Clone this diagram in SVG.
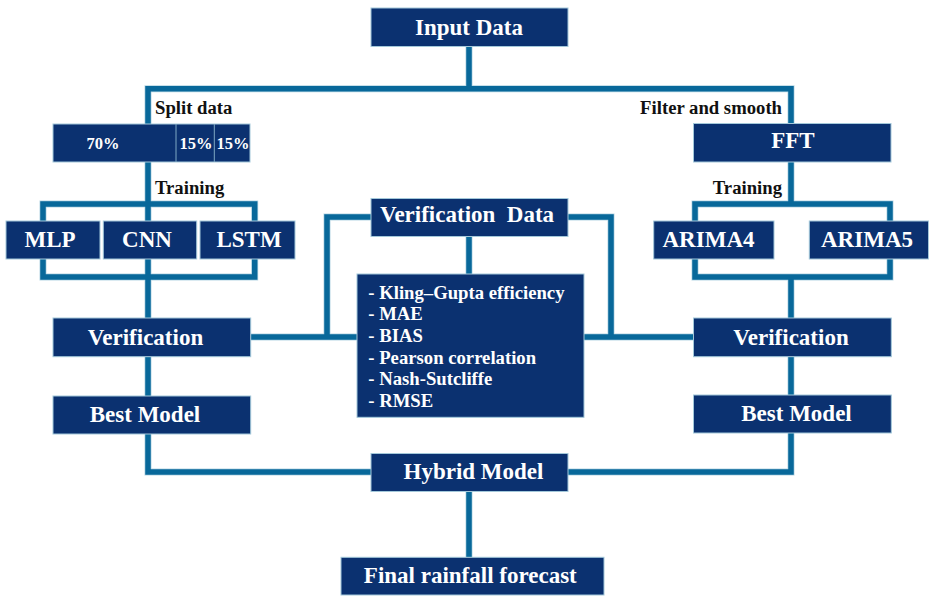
<svg xmlns="http://www.w3.org/2000/svg" width="929" height="596" viewBox="0 0 929 596">
  <style>
    .box { fill: #0b3170; stroke: #a3c8da; stroke-width: 1; }
    .div { stroke: #7fa9c4; stroke-width: 1; }
    .lbl { font-family: "Liberation Serif", serif; font-weight: bold; fill: #ffffff; text-anchor: middle; }
    .big { font-size: 23px; }
    .pct { font-size: 16.5px; }
    .met { font-family: "Liberation Serif", serif; font-weight: bold; fill: #ffffff; font-size: 18.7px; }
    .side { font-family: "Liberation Serif", serif; font-weight: bold; fill: #111111; font-size: 18.7px; }
    .halo { fill: none; stroke: #b5d6e4; stroke-width: 7; }
    .wire { fill: none; stroke: #08689a; stroke-width: 5.5; }
  </style>

  <!-- connectors: halo pass first, then the blue wire on top -->
  <g id="connectors">
    <g class="halo">
      <path d="M469 47 V88.7 M148 124 V88.7 H791 V123"/>
      <path d="M148 162 V221 M43 221 V204 H254.7 V221"/>
      <path d="M43 259 V277 H254.7 V259 M148 259 V318"/>
      <path d="M148 357 V396 M148 434 V472 H371"/>
      <path d="M791 162 V204 M695 221 V204 H890 V221"/>
      <path d="M695 259 V277 H890 V259 M791 277 V318"/>
      <path d="M791 357 V395 M791 433 V472 H568"/>
      <path d="M469 492 V557"/>
      <path d="M371 217 H327 V337 M568 217 H611 V337 M469 237 V274"/>
      <path d="M251 337 H357 M584 337 H693"/>
    </g>
    <g class="wire">
      <path d="M469 47 V88.7 M148 124 V88.7 H791 V123"/>
      <path d="M148 162 V221 M43 221 V204 H254.7 V221"/>
      <path d="M43 259 V277 H254.7 V259 M148 259 V318"/>
      <path d="M148 357 V396 M148 434 V472 H371"/>
      <path d="M791 162 V204 M695 221 V204 H890 V221"/>
      <path d="M695 259 V277 H890 V259 M791 277 V318"/>
      <path d="M791 357 V395 M791 433 V472 H568"/>
      <path d="M469 492 V557"/>
      <path d="M371 217 H327 V337 M568 217 H611 V337 M469 237 V274"/>
      <path d="M251 337 H357 M584 337 H693"/>
    </g>
  </g>

  <!-- branch captions -->
  <g id="captions">
    <text class="side" x="155" y="114">Split data</text>
    <text class="side" x="155" y="194">Training</text>
    <text class="side" x="782" y="114" text-anchor="end">Filter and smooth</text>
    <text class="side" x="782" y="194" text-anchor="end">Training</text>
  </g>

  <g id="input-data">
    <rect class="box" x="371" y="8" width="197" height="38.5"/>
    <text class="lbl big" x="469" y="35">Input Data</text>
  </g>

  <g id="split">
    <rect class="box" x="53" y="124" width="197" height="38"/>
    <line class="div" x1="176" y1="124" x2="176" y2="162"/>
    <line class="div" x1="214.3" y1="124" x2="214.3" y2="162"/>
    <text class="lbl pct" x="103" y="148.5">70%</text>
    <text class="lbl pct" x="196" y="148.5">15%</text>
    <text class="lbl pct" x="233" y="148.5">15%</text>
  </g>

  <g id="fft">
    <rect class="box" x="693.5" y="123.5" width="197.5" height="38.5"/>
    <text class="lbl big" x="793" y="148">FFT</text>
  </g>

  <g id="mlp">
    <rect class="box" x="6" y="221" width="94" height="38"/>
    <text class="lbl big" x="50" y="247">MLP</text>
  </g>
  <g id="cnn">
    <rect class="box" x="103.3" y="221" width="93.4" height="38"/>
    <text class="lbl big" x="147" y="247">CNN</text>
  </g>
  <g id="lstm">
    <rect class="box" x="200" y="221" width="95" height="38"/>
    <text class="lbl big" x="249" y="247">LSTM</text>
  </g>

  <g id="arima4">
    <rect class="box" x="653.7" y="221" width="120.3" height="38"/>
    <text class="lbl big" x="708.5" y="247">ARIMA4</text>
  </g>
  <g id="arima5">
    <rect class="box" x="809.3" y="221" width="119.2" height="38"/>
    <text class="lbl big" x="867" y="247">ARIMA5</text>
  </g>

  <g id="verification-data">
    <rect class="box" x="371" y="198.5" width="197" height="38"/>
    <text class="lbl big" x="467" y="222" xml:space="preserve">Verification  Data</text>
  </g>

  <g id="metrics">
    <rect class="box" x="357" y="274" width="227" height="143.3"/>
    <text class="met" x="368.3" y="298.5">- Kling–Gupta efficiency</text>
    <text class="met" x="368.3" y="320.2">- MAE</text>
    <text class="met" x="368.3" y="341.9">- BIAS</text>
    <text class="met" x="368.3" y="363.6">- Pearson correlation</text>
    <text class="met" x="368.3" y="385.3">- Nash-Sutcliffe</text>
    <text class="met" x="368.3" y="407">- RMSE</text>
  </g>

  <g id="verification-left">
    <rect class="box" x="53" y="318" width="197.7" height="38.7"/>
    <text class="lbl big" x="145.5" y="345">Verification</text>
  </g>
  <g id="verification-right">
    <rect class="box" x="693.5" y="318" width="197.8" height="38.7"/>
    <text class="lbl big" x="791" y="345">Verification</text>
  </g>

  <g id="best-left">
    <rect class="box" x="53" y="396" width="197.7" height="38"/>
    <text class="lbl big" x="145" y="421.5">Best Model</text>
  </g>
  <g id="best-right">
    <rect class="box" x="693.5" y="395" width="197.8" height="38"/>
    <text class="lbl big" x="796.5" y="421">Best Model</text>
  </g>

  <g id="hybrid-model">
    <rect class="box" x="371" y="453.5" width="197" height="38"/>
    <text class="lbl big" x="473.5" y="479">Hybrid Model</text>
  </g>

  <g id="final-forecast">
    <rect class="box" x="341" y="557.3" width="263" height="37.7"/>
    <text class="lbl big" x="470.3" y="582.7">Final rainfall forecast</text>
  </g>
</svg>
